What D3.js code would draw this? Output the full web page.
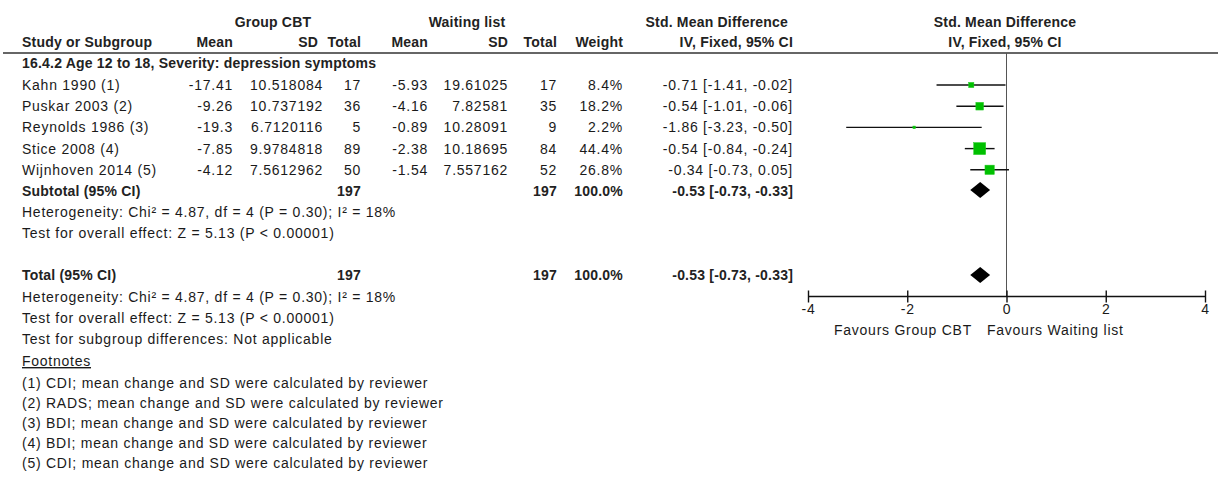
<!DOCTYPE html>
<html>
<head>
<meta charset="utf-8">
<script src="https://cdn.jsdelivr.net/npm/d3@7/dist/d3.min.js"></script>
<style>
  html, body { margin: 0; padding: 0; background: #fff; }
  svg text { font-family: "Liberation Sans", Arial, sans-serif; font-size: 14px; letter-spacing: 0.75px; fill: #1a1a1a; }
  svg text.b { font-weight: bold; letter-spacing: 0.2px; fill: #222; }
</style>
</head>
<body>
<svg id="chart" width="1224" height="479"></svg>
<script>
// Study-level data: group CBT vs waiting list, age 12 to 18, depression severity
const studies   = ["Kahn 1990 (1)", "Puskar 2003 (2)", "Reynolds 1986 (3)", "Stice 2008 (4)", "Wijnhoven 2014 (5)"];
const cbtMean   = ["-17.41", "-9.26", "-19.3", "-7.85", "-4.12"];
const cbtSD     = ["10.518084", "10.737192", "6.7120116", "9.9784818", "7.5612962"];
const cbtN      = [17, 36, 5, 89, 50];
const wlMean    = ["-5.93", "-4.16", "-0.89", "-2.38", "-1.54"];
const wlSD      = ["19.61025", "7.82581", "10.28091", "10.18695", "7.557162"];
const wlN       = [17, 35, 9, 84, 52];
const weights   = [8.4, 18.2, 2.2, 44.4, 26.8];
const smd       = [-0.71, -0.54, -1.86, -0.54, -0.34];
const ciLow     = [-1.41, -1.01, -3.23, -0.84, -0.73];
const ciHigh    = [-0.02, -0.06, -0.50, -0.24, 0.05];

// Pooled estimates (subtotal and overall are identical here)
const pooledSMD  = -0.53;
const pooledLow  = -0.73;
const pooledHigh = -0.33;

const axisTicks  = [-4, -2, 0, 2, 4];

const heterogeneity = "Heterogeneity: Chi\u00b2 = 4.87, df = 4 (P = 0.30); I\u00b2 = 18%";
const overallEffect = "Test for overall effect: Z = 5.13 (P < 0.00001)";
const subgroupTest  = "Test for subgroup differences: Not applicable";
const footnotes = [
  "(1) CDI; mean change and SD were calculated by reviewer",
  "(2) RADS; mean change and SD were calculated by reviewer",
  "(3) BDI; mean change and SD were calculated by reviewer",
  "(4) BDI; mean change and SD were calculated by reviewer",
  "(5) CDI; mean change and SD were calculated by reviewer"
];

const svg = d3.select("#chart");
// plain hyphen-minus for negatives
const loc = d3.formatLocale({ decimal: ".", thousands: ",", grouping: [3], currency: ["", ""], minus: "-" });
const fmt2 = loc.format(".2f");
const ciText = (m, l, h) => `${fmt2(m)} [${fmt2(l)}, ${fmt2(h)}]`;

// column right edges
const col = { left: 22, cMean: 233, cSD: 323, cN: 361, wMean: 428, wSD: 508, wN: 557, weight: 623, ci: 793 };

function txt(x, y, s, anchor = "start", bold = false) {
  return svg.append("text")
    .attr("x", x).attr("y", y)
    .attr("text-anchor", anchor)
    .attr("class", bold ? "b" : null)
    .text(s);
}

// header
txt(273, 27, "Group CBT", "middle", true);
txt(467, 27, "Waiting list", "middle", true);
txt(788, 27, "Std. Mean Difference", "end", true);
txt(1005, 27, "Std. Mean Difference", "middle", true);

const hy = 47;
txt(col.left, hy, "Study or Subgroup", "start", true);
txt(col.cMean, hy, "Mean", "end", true);
txt(col.cSD - 5, hy, "SD", "end", true);
txt(col.cN, hy, "Total", "end", true);
txt(col.wMean, hy, "Mean", "end", true);
txt(col.wSD, hy, "SD", "end", true);
txt(col.wN, hy, "Total", "end", true);
txt(col.weight, hy, "Weight", "end", true);
txt(col.ci, hy, "IV, Fixed, 95% CI", "end", true);
txt(1005, hy, "IV, Fixed, 95% CI", "middle", true);

svg.append("line")
  .attr("x1", 3).attr("x2", 1218).attr("y1", 53).attr("y2", 53)
  .attr("stroke", "#333").attr("stroke-width", 1.5);

txt(col.left, 68, "16.4.2 Age 12 to 18, Severity: depression symptoms", "start", true);

// study rows
const rowY = d3.scaleLinear().domain([0, 1]).range([85, 106.2]);
const base = 5;

studies.forEach((s, i) => {
  const y = rowY(i) + base;
  txt(col.left, y, s);
  txt(col.cMean, y, cbtMean[i], "end");
  txt(col.cSD, y, cbtSD[i], "end");
  txt(col.cN, y, cbtN[i], "end");
  txt(col.wMean, y, wlMean[i], "end");
  txt(col.wSD, y, wlSD[i], "end");
  txt(col.wN, y, wlN[i], "end");
  txt(col.weight, y, weights[i].toFixed(1) + "%", "end");
  txt(col.ci, y, ciText(smd[i], ciLow[i], ciHigh[i]), "end");
});

const subY = 191;
const totalY = 275;
const sumCBT = d3.sum(cbtN), sumWL = d3.sum(wlN), sumW = d3.sum(weights);

function summaryRow(label, y) {
  const by = y + base;
  txt(col.left, by, label, "start", true);
  txt(col.cN, by, sumCBT, "end", true);
  txt(col.wN, by, sumWL, "end", true);
  txt(col.weight, by, sumW.toFixed(1) + "%", "end", true);
  txt(col.ci, by, ciText(pooledSMD, pooledLow, pooledHigh), "end", true);
}
summaryRow("Subtotal (95% CI)", subY);
txt(col.left, 217, heterogeneity);
txt(col.left, 238, overallEffect);

summaryRow("Total (95% CI)", totalY);
txt(col.left, 302, heterogeneity);
txt(col.left, 323, overallEffect);
txt(col.left, 344, subgroupTest);
svg.append("text").attr("x", col.left).attr("y", 366)
  .attr("text-decoration", "underline").text("Footnotes");
footnotes.forEach((f, i) => txt(col.left, 388 + i * 20, f));

// forest plot
const x = d3.scaleLinear().domain([-4, 4]).range([808, 1205]);
const axisY = 296.5;

svg.append("line")
  .attr("x1", x(0)).attr("x2", x(0)).attr("y1", 53).attr("y2", axisY)
  .attr("stroke", "#555").attr("stroke-width", 1);

const g = svg.append("g");
studies.forEach((s, i) => {
  const y = rowY(i);
  g.append("line")
    .attr("x1", x(ciLow[i])).attr("x2", x(ciHigh[i]))
    .attr("y1", y).attr("y2", y)
    .attr("stroke", "#111").attr("stroke-width", 1.4);
  const side = 1.8 * Math.sqrt(weights[i]);
  g.append("rect")
    .attr("x", x(smd[i]) - side / 2).attr("y", y - side / 2)
    .attr("width", side).attr("height", side)
    .attr("fill", "#00c000").attr("stroke", "#22cc22").attr("stroke-width", 0.5);
});

function diamond(y) {
  const h = 8;
  const pts = [[x(pooledLow), y], [x(pooledSMD), y - h], [x(pooledHigh), y], [x(pooledSMD), y + h]];
  g.append("path").attr("d", d3.line()(pts) + "Z").attr("fill", "#000");
}
diamond(subY - 1);
diamond(totalY);

// axis
const axis = d3.axisBottom(x).tickValues(axisTicks).tickSize(6).tickFormat(loc.format("d"));
const ax = svg.append("g").attr("transform", `translate(0,${axisY})`).call(axis);
ax.select(".domain").remove();
ax.selectAll(".tick line").attr("y1", -6).attr("y2", 6).attr("stroke", "#111").attr("stroke-width", 1.4);
ax.selectAll(".tick text").attr("y", 8).attr("dy", "0.71em").attr("font-family", null).attr("font-size", null)
  .attr("fill", "#1a1a1a");
ax.append("line").attr("x1", x(-4)).attr("x2", x(4)).attr("y1", 0).attr("y2", 0)
  .attr("stroke", "#111").attr("stroke-width", 1.4);

txt(972, 335, "Favours Group CBT", "end");
txt(987, 335, "Favours Waiting list", "start");
</script>
</body>
</html>
